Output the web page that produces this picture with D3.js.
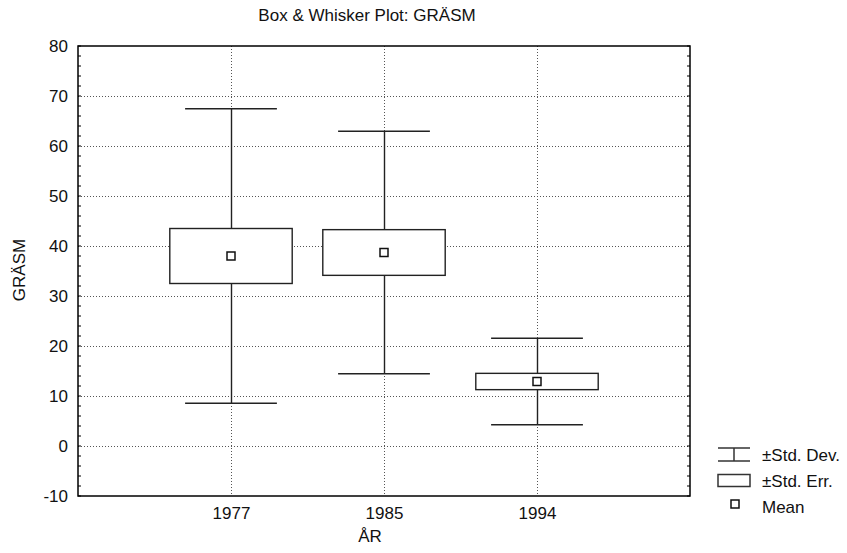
<!DOCTYPE html>
<html>
<head>
<meta charset="utf-8">
<script src="https://cdn.jsdelivr.net/npm/d3@7/dist/d3.min.js"></script>
<style>
  html, body { margin: 0; padding: 0; background: #fff; }
  svg { display: block; font-family: Arial, "Liberation Sans", sans-serif; }
</style>
</head>
<body>
<svg id="chart" width="847" height="553"></svg>
<script>
// Summary statistics per year: mean, standard error, standard deviation
const years = ["1977", "1985", "1994"];
const means = [38.0, 38.7, 12.9];
const stdErr = [5.5, 4.57, 1.63];
const stdDev = [29.45, 24.23, 8.63];
const yTicks = [-10, 0, 10, 20, 30, 40, 50, 60, 70, 80];

const title = "Box & Whisker Plot: GRÄSM";
const xTitle = "ÅR";
const yTitle = "GRÄSM";
const legendLabels = ["±Std. Dev.", "±Std. Err.", "Mean"];

const svg = d3.select("#chart");
const margin = { left: 78, right: 157, top: 46, bottom: 57 };
const W = 847, H = 553;
const x0 = margin.left, x1 = W - margin.right;
const y0 = margin.top, y1 = H - margin.bottom;

const x = d3.scalePoint().domain(years).range([x0, x1]).padding(1);
const y = d3.scaleLinear().domain([-10, 80]).range([y1, y0]);
const step = x.step();

const data = years.map((yr, i) => ({ yr, mean: means[i], se: stdErr[i], sd: stdDev[i] }));

// Grid lines (dotted)
const grid = svg.append("g").attr("stroke", "#555").attr("stroke-width", 1)
  .attr("stroke-dasharray", "1,2");
grid.selectAll("line.h").data(yTicks.filter(t => t > -10 && t < 80)).join("line")
  .attr("class", "h")
  .attr("x1", x0).attr("x2", x1)
  .attr("y1", d => Math.round(y(d)) + 0.5).attr("y2", d => Math.round(y(d)) + 0.5);
grid.selectAll("line.v").data(years).join("line")
  .attr("class", "v")
  .attr("x1", d => Math.round(x(d)) + 0.5).attr("x2", d => Math.round(x(d)) + 0.5)
  .attr("y1", y0).attr("y2", y1);

// Whiskers: mean ± standard deviation
const g = svg.append("g");
g.selectAll("line.stem").data(data).join("line")
  .attr("x1", d => Math.round(x(d.yr)) + 0.5).attr("x2", d => Math.round(x(d.yr)) + 0.5)
  .attr("y1", d => y(d.mean + d.sd)).attr("y2", d => y(d.mean - d.sd))
  .attr("stroke", "#222").attr("stroke-width", 1.4);
const capW = step * 0.6;
["+", "-"].forEach(sign => {
  g.selectAll("line.cap" + (sign === "+" ? "t" : "b")).data(data).join("line")
    .attr("x1", d => x(d.yr) - capW / 2).attr("x2", d => x(d.yr) + capW / 2)
    .attr("y1", d => y(sign === "+" ? d.mean + d.sd : d.mean - d.sd))
    .attr("y2", d => y(sign === "+" ? d.mean + d.sd : d.mean - d.sd))
    .attr("stroke", "#222").attr("stroke-width", 1.5);
});

// Boxes: mean ± standard error
const boxW = step * 0.8;
g.selectAll("rect.box").data(data).join("rect")
  .attr("x", d => x(d.yr) - boxW / 2).attr("width", boxW)
  .attr("y", d => y(d.mean + d.se)).attr("height", d => y(d.mean - d.se) - y(d.mean + d.se))
  .attr("fill", "#fff").attr("stroke", "#222").attr("stroke-width", 1.4);

// Mean markers
const m = 8;
g.selectAll("rect.mean").data(data).join("rect")
  .attr("x", d => x(d.yr) - m / 2).attr("y", d => y(d.mean) - m / 2)
  .attr("width", m).attr("height", m)
  .attr("fill", "#fff").attr("stroke", "#111").attr("stroke-width", 1.5);

// Frame
svg.append("rect").attr("x", x0).attr("y", y0).attr("width", x1 - x0).attr("height", y1 - y0)
  .attr("fill", "none").attr("stroke", "#000").attr("stroke-width", 1.5);

// Minor ticks on left and right edges
const minor = d3.range(-10, 80.001, 2);
svg.append("g").selectAll("line").data(minor).join("line")
  .attr("x1", x0).attr("x2", x0 + 3)
  .attr("y1", d => y(d)).attr("y2", d => y(d))
  .attr("stroke", "#000").attr("stroke-width", 1);
svg.append("g").selectAll("line").data(minor).join("line")
  .attr("x1", x1).attr("x2", x1 - 3)
  .attr("y1", d => y(d)).attr("y2", d => y(d))
  .attr("stroke", "#000").attr("stroke-width", 1);

// Y axis labels (plain hyphen for negatives)
const yAxis = d3.axisLeft(y).tickValues(yTicks).tickFormat(d => String(d))
  .tickSize(0).tickPadding(10);
const ya = svg.append("g").attr("transform", `translate(${x0},0)`).call(yAxis);
ya.select(".domain").remove();
ya.selectAll("text").attr("font-size", 17).attr("fill", "#111")
  .attr("font-family", "Arial, 'Liberation Sans', sans-serif");

// X axis labels
const xAxis = d3.axisBottom(x).tickSize(0).tickPadding(11);
const xa = svg.append("g").attr("transform", `translate(0,${y1})`).call(xAxis);
xa.select(".domain").remove();
xa.selectAll("text").attr("font-size", 17).attr("fill", "#111")
  .attr("font-family", "Arial, 'Liberation Sans', sans-serif");

// Titles
svg.append("text").attr("x", 367).attr("y", 21).attr("text-anchor", "middle")
  .attr("font-size", 17).attr("fill", "#111").text(title);
svg.append("text").attr("x", 370).attr("y", 542).attr("text-anchor", "middle")
  .attr("font-size", 17).attr("fill", "#111").text(xTitle);
svg.append("text").attr("transform", "translate(25,270) rotate(-90)")
  .attr("text-anchor", "middle").attr("font-size", 17).attr("fill", "#111").text(yTitle);

// Legend
const lg = svg.append("g").attr("stroke", "#333").attr("stroke-width", 1.5).attr("fill", "none");
lg.append("line").attr("x1", 718).attr("x2", 750).attr("y1", 448).attr("y2", 448);
lg.append("line").attr("x1", 718).attr("x2", 750).attr("y1", 461).attr("y2", 461);
lg.append("line").attr("x1", 734).attr("x2", 734).attr("y1", 448).attr("y2", 461);
lg.append("rect").attr("x", 718).attr("y", 474.5).attr("width", 32).attr("height", 12);
lg.append("rect").attr("x", 731).attr("y", 500).attr("width", 8).attr("height", 8)
  .attr("fill", "#fff").attr("stroke", "#111");
svg.append("g").selectAll("text").data(legendLabels).join("text")
  .attr("x", 762).attr("y", (d, i) => 461 + i * 26)
  .attr("font-size", 17).attr("fill", "#111").text(d => d);
</script>
</body>
</html>
